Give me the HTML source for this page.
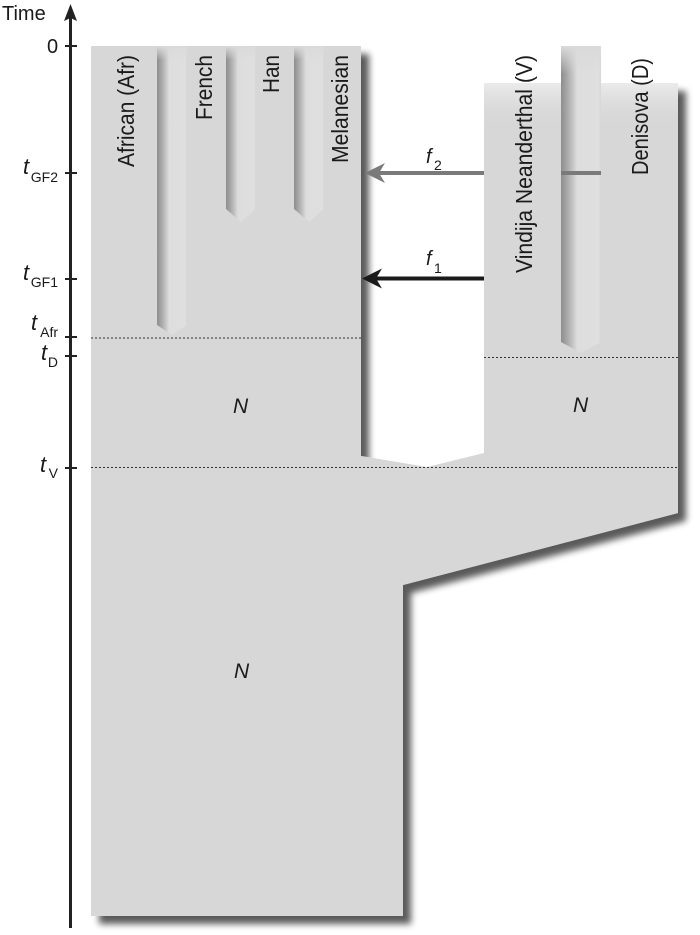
<!DOCTYPE html>
<html><head><meta charset="utf-8"><style>
html,body{margin:0;padding:0;background:#fff;}
svg{display:block;}
text{font-family:"Liberation Sans",Arial,sans-serif;fill:#1a1a1a;}
</style></head><body>
<svg width="700" height="935" viewBox="0 0 700 935" xmlns="http://www.w3.org/2000/svg">
<defs>
<filter id="sh" x="-10%" y="-10%" width="130%" height="130%">
<feGaussianBlur in="SourceAlpha" stdDeviation="3.5"/>
<feOffset dx="8" dy="8" result="b"/>
<feComponentTransfer><feFuncA type="linear" slope="0.65"/></feComponentTransfer>
<feMerge><feMergeNode/><feMergeNode in="SourceGraphic"/></feMerge>
</filter>
<linearGradient id="gr" x1="0" y1="0" x2="1" y2="0">
<stop offset="0" stop-color="#8e8e8e"/>
<stop offset="0.12" stop-color="#a2a2a2"/>
<stop offset="0.3" stop-color="#c6c6c6"/>
<stop offset="0.4" stop-color="#dddddd"/>
<stop offset="0.95" stop-color="#dfdfdf"/>
<stop offset="1" stop-color="#d5d5d5"/>
</linearGradient>
<linearGradient id="topfade" x1="0" y1="0" x2="0" y2="1">
<stop offset="0" stop-color="#ebebeb" stop-opacity="1"/>
<stop offset="1" stop-color="#d7d7d7" stop-opacity="0"/>
</linearGradient>
<linearGradient id="grTop" x1="0" y1="0" x2="0" y2="1">
<stop offset="0" stop-color="#dadada" stop-opacity="1"/>
<stop offset="1" stop-color="#dadada" stop-opacity="0"/>
</linearGradient>
</defs>

<!-- main shape -->
<path d="M91,46 L361,46 L361,456 L427,467 L484,453 L484,83 L678,83 L678,513 L403,585 L403,916 L91,916 Z" fill="#d7d7d7" filter="url(#sh)"/>
<!-- light top band of right block -->
<rect x="484" y="83" width="194" height="45" fill="url(#topfade)"/>

<!-- grooves -->
<path d="M157,46 L187,46 L187,325 L172,335 L157,325 Z" fill="url(#gr)"/>
<path d="M226,46 L256,46 L256,209 L241,222 L226,209 Z" fill="url(#gr)"/>
<path d="M294,46 L324,46 L324,209 L309,222 L294,209 Z" fill="url(#gr)"/>
<rect x="157" y="46" width="30" height="14" fill="url(#grTop)"/>
<rect x="226" y="46" width="30" height="14" fill="url(#grTop)"/>
<rect x="294" y="46" width="30" height="14" fill="url(#grTop)"/>
<!-- Denisova column -->
<path d="M561,46 L601,46 L601,342 L581,353 L561,342 Z" fill="url(#gr)"/>
<rect x="561" y="46" width="40" height="28" fill="url(#grTop)"/>

<!-- dotted lines -->
<g stroke="#333" stroke-width="1" stroke-dasharray="2,2">
<line x1="91" y1="338" x2="361" y2="338"/>
<line x1="484" y1="357.5" x2="678" y2="357.5"/>
<line x1="91" y1="467.5" x2="678" y2="467.5"/>
</g>

<!-- axis -->
<line x1="70.5" y1="16" x2="70.5" y2="928" stroke="#222" stroke-width="3"/>
<polygon points="70.5,4 77,21 70.5,18 64,21" fill="#222"/>
<g stroke="#222" stroke-width="2">
<line x1="65" y1="46" x2="77" y2="46"/>
<line x1="65" y1="173" x2="77" y2="173"/>
<line x1="65" y1="279" x2="77" y2="279"/>
<line x1="65" y1="337" x2="77" y2="337"/>
<line x1="65" y1="356" x2="77" y2="356"/>
<line x1="65" y1="468" x2="77" y2="468"/>
</g>

<!-- axis labels -->
<text x="2" y="20" font-size="20">Time</text>
<text x="47" y="53" font-size="20">0</text>
<text x="23" y="174" font-size="22" font-style="italic">t</text>
<text x="58" y="182" font-size="14" text-anchor="end">GF2</text>
<text x="23" y="280" font-size="22" font-style="italic">t</text>
<text x="58" y="287" font-size="14" text-anchor="end">GF1</text>
<text x="31" y="330" font-size="22" font-style="italic">t</text>
<text x="58" y="337" font-size="14" text-anchor="end">Afr</text>
<text x="41" y="360" font-size="22" font-style="italic">t</text>
<text x="58" y="367" font-size="14" text-anchor="end">D</text>
<text x="40" y="472" font-size="22" font-style="italic">t</text>
<text x="58" y="478" font-size="14" text-anchor="end">V</text>

<!-- arrows -->
<line x1="484" y1="173" x2="376" y2="173" stroke="#7a7a7a" stroke-width="4"/>
<polygon points="365,173 385,163 379,173 385,183" fill="#7a7a7a"/>
<line x1="561" y1="173" x2="601" y2="173" stroke="#7a7a7a" stroke-width="4"/>
<line x1="484" y1="278.5" x2="374" y2="278.5" stroke="#1a1a1a" stroke-width="4"/>
<polygon points="362,278.5 382,268.5 376,278.5 382,288.5" fill="#1a1a1a"/>

<text x="426" y="163" font-size="20" font-style="italic">f</text>
<text x="434" y="170" font-size="14">2</text>
<text x="426" y="265" font-size="20" font-style="italic">f</text>
<text x="434" y="273" font-size="14">1</text>

<!-- N labels -->
<text x="233" y="413" font-size="21" font-style="italic">N</text>
<text x="573" y="412" font-size="21" font-style="italic">N</text>
<text x="234" y="678" font-size="21" font-style="italic">N</text>

<!-- column labels (rotated) -->
<g font-size="23">
<text transform="translate(134,167) rotate(-90)" textLength="112" lengthAdjust="spacingAndGlyphs">African (Afr)</text>
<text transform="translate(212,120) rotate(-90)" textLength="65" lengthAdjust="spacingAndGlyphs">French</text>
<text transform="translate(279,93) rotate(-90)" textLength="38" lengthAdjust="spacingAndGlyphs">Han</text>
<text transform="translate(348,163) rotate(-90)" textLength="108" lengthAdjust="spacingAndGlyphs">Melanesian</text>
<text transform="translate(532,273) rotate(-90)" textLength="218" lengthAdjust="spacingAndGlyphs">Vindija Neanderthal (V)</text>
<text transform="translate(648,175) rotate(-90)" textLength="117" lengthAdjust="spacingAndGlyphs">Denisova (D)</text>
</g>
</svg>
</body></html>
